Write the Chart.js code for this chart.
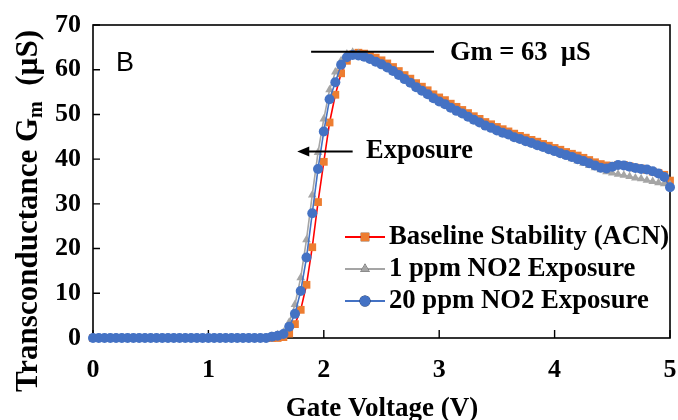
<!DOCTYPE html>
<html>
<head>
<meta charset="utf-8">
<script src="https://cdn.jsdelivr.net/npm/chart.js@4.4.0/dist/chart.umd.min.js"></script>
<style>
  html, body { margin: 0; padding: 0; background: #ffffff; }
  #wrap { width: 678px; height: 420px; }
</style>
</head>
<body>
<div id="wrap"><canvas id="chart" width="678" height="420"></canvas></div>
<script>
// Gate voltage sweep (V)
const voltage = [
  0.00, 0.05, 0.10, 0.15, 0.20, 0.25, 0.30, 0.35, 0.40, 0.45,
  0.50, 0.55, 0.60, 0.65, 0.70, 0.75, 0.80, 0.85, 0.90, 0.95,
  1.00, 1.05, 1.10, 1.15, 1.20, 1.25, 1.30, 1.35, 1.40, 1.45,
  1.50, 1.55, 1.60, 1.65, 1.70, 1.75, 1.80, 1.85, 1.90, 1.95,
  2.00, 2.05, 2.10, 2.15, 2.20, 2.25, 2.30, 2.35, 2.40, 2.45,
  2.50, 2.55, 2.60, 2.65, 2.70, 2.75, 2.80, 2.85, 2.90, 2.95,
  3.00, 3.05, 3.10, 3.15, 3.20, 3.25, 3.30, 3.35, 3.40, 3.45,
  3.50, 3.55, 3.60, 3.65, 3.70, 3.75, 3.80, 3.85, 3.90, 3.95,
  4.00, 4.05, 4.10, 4.15, 4.20, 4.25, 4.30, 4.35, 4.40, 4.45,
  4.50, 4.55, 4.60, 4.65, 4.70, 4.75, 4.80, 4.85, 4.90, 4.95,
  5.00
];

// Transconductance Gm (µS), baseline in acetonitrile
const baselineACN = [
  0, 0, 0, 0, 0, 0, 0, 0, 0, 0,
  0, 0, 0, 0, 0, 0, 0, 0, 0, 0,
  0, 0, 0, 0, 0, 0, 0, 0, 0, 0,
  0, 0, 0, 0.2, 1.0, 3.1, 6.3, 11.9, 20.3, 30.4,
  39.4, 48.2, 54.4, 59.2, 62.0, 63.4, 63.8, 63.6, 63.2, 62.7,
  62.1, 61.4, 60.6, 59.7, 58.8, 58.0, 57.0, 56.2, 55.4, 54.5,
  53.8, 53.2, 52.4, 51.7, 51.0, 50.3, 49.6, 49.0, 48.3, 47.8,
  47.2, 46.7, 46.2, 45.7, 45.2, 44.8, 44.3, 43.9, 43.4, 43.0,
  42.5, 42.1, 41.6, 41.2, 40.8, 40.3, 39.8, 39.3, 38.9, 38.6,
  38.5, 38.7, 38.7, 38.4, 38.1, 37.9, 37.6, 37.2, 36.9, 36.5,
  35.2
];

// Transconductance Gm (µS), 1 ppm NO2
const no2Ppm1 = [
  0, 0, 0, 0, 0, 0, 0, 0, 0, 0,
  0, 0, 0, 0, 0, 0, 0, 0, 0, 0,
  0, 0, 0, 0, 0, 0, 0, 0, 0, 0,
  0, 0.4, 0.7, 1.3, 3.5, 7.5, 13.5, 22.0, 32.0, 41.5,
  49.0, 55.5, 59.5, 62.0, 63.5, 63.9, 63.6, 63.1, 62.5, 61.8,
  61.1, 60.3, 59.5, 58.6, 57.7, 56.9, 55.9, 55.1, 54.3, 53.4,
  52.7, 52.1, 51.3, 50.6, 50.0, 49.3, 48.6, 48.0, 47.3, 46.8,
  46.2, 45.7, 45.3, 44.7, 44.3, 43.8, 43.4, 42.9, 42.5, 42.0,
  41.6, 41.1, 40.6, 40.1, 39.6, 39.1, 38.6, 38.1, 37.6, 37.2,
  36.9, 36.6, 36.4, 36.1, 35.8, 35.6, 35.3, 35.0, 34.7, 34.5,
  34.3
];

// Transconductance Gm (µS), 20 ppm NO2
const no2Ppm20 = [
  0, 0, 0, 0, 0, 0, 0, 0, 0, 0,
  0, 0, 0, 0, 0, 0, 0, 0, 0, 0,
  0, 0, 0, 0, 0, 0, 0, 0, 0, 0,
  0, 0.3, 0.5, 0.9, 2.5, 5.4, 10.5, 18.0, 27.9, 37.8,
  46.2, 53.4, 57.2, 61.1, 62.8, 63.3, 63.2, 62.9, 62.4, 61.8,
  61.2, 60.5, 59.7, 58.8, 57.9, 57.1, 56.1, 55.3, 54.5, 53.6,
  52.9, 52.3, 51.5, 50.8, 50.2, 49.5, 48.8, 48.2, 47.5, 47.0,
  46.4, 45.9, 45.5, 44.9, 44.5, 44.0, 43.6, 43.1, 42.7, 42.2,
  41.8, 41.3, 40.9, 40.5, 40.0, 39.6, 39.1, 38.6, 38.1, 37.9,
  38.3, 38.7, 38.6, 38.3, 38.0, 37.8, 37.7, 37.3, 36.8, 36.0,
  33.7
];

const seriesNames = ['Baseline Stability (ACN)', '1 ppm NO2 Exposure', '20 ppm NO2 Exposure'];
const xTickValues = [0, 1, 2, 3, 4, 5];
const yTickValues = [0, 10, 20, 30, 40, 50, 60, 70];
const peakLabel = 'Gm = 63  \u00B5S';
const arrowLabel = 'Exposure';
const panelLabel = 'B';
const xTitle = 'Gate Voltage (V)';
const yTitleParts = ['Transconductance G', 'm', '  (\u00B5S)'];

const SERIF = '"Liberation Serif", "Times New Roman", serif';
const SANS = '"Liberation Sans", Arial, sans-serif';

function toPoints(ys) {
  return voltage.map((v, i) => ({ x: v, y: ys[i] }));
}

// Frame around the plot area plus inward tick marks
const framePlugin = {
  id: 'frame',
  beforeDatasetsDraw(chart) {
    const { ctx, chartArea: a, scales } = chart;
    ctx.save();
    ctx.strokeStyle = '#000';
    ctx.lineWidth = 1.6;
    ctx.strokeRect(a.left, a.top, a.right - a.left, a.bottom - a.top);
    ctx.lineWidth = 1.4;
    ctx.beginPath();
    xTickValues.forEach(v => {
      const px = scales.x.getPixelForValue(v);
      ctx.moveTo(px, a.bottom);
      ctx.lineTo(px, a.bottom - 8);
    });
    yTickValues.forEach(v => {
      const py = scales.y.getPixelForValue(v);
      ctx.moveTo(a.left, py);
      ctx.lineTo(a.left + 7, py);
    });
    ctx.stroke();
    ctx.restore();
  }
};

// Axis titles, annotations and the in-plot legend
const overlayPlugin = {
  id: 'overlay',
  afterDraw(chart) {
    const { ctx, chartArea: a, scales } = chart;
    const X = v => scales.x.getPixelForValue(v);
    const Y = v => scales.y.getPixelForValue(v);
    ctx.save();
    ctx.fillStyle = '#000';
    ctx.strokeStyle = '#000';

    // x-axis title
    ctx.font = 'bold 27px ' + SERIF;
    ctx.textAlign = 'center';
    ctx.textBaseline = 'alphabetic';
    ctx.fillText(xTitle, 382, 416);

    // y-axis title with subscript
    ctx.save();
    ctx.translate(37, 211);
    ctx.rotate(-Math.PI / 2);
    const big = 'bold 31px ' + SERIF;
    const small = 'bold 20px ' + SERIF;
    ctx.font = big;
    const w0 = ctx.measureText(yTitleParts[0]).width;
    const w2 = ctx.measureText(yTitleParts[2]).width;
    ctx.font = small;
    const w1 = ctx.measureText(yTitleParts[1]).width;
    const sx = -(w0 + w1 + w2) / 2;
    ctx.textAlign = 'left';
    ctx.font = big;
    ctx.fillText(yTitleParts[0], sx, 0);
    ctx.font = small;
    ctx.fillText(yTitleParts[1], sx + w0, 5);
    ctx.font = big;
    ctx.fillText(yTitleParts[2], sx + w0 + w1, 0);
    ctx.restore();

    // panel letter
    ctx.font = '27px ' + SANS;
    ctx.textAlign = 'left';
    ctx.fillText(panelLabel, 116, 71);

    // peak marker line and label
    ctx.lineWidth = 2;
    ctx.beginPath();
    ctx.moveTo(X(1.89), Y(64));
    ctx.lineTo(X(2.955), Y(64));
    ctx.stroke();
    ctx.font = 'bold 26.5px ' + SERIF;
    ctx.textBaseline = 'middle';
    ctx.fillText(peakLabel, 450, Y(64) + 1);

    // shift arrow and label
    const ay = Y(41.7);
    const tip = X(1.77);
    ctx.beginPath();
    ctx.moveTo(X(2.25), ay);
    ctx.lineTo(tip + 8, ay);
    ctx.stroke();
    ctx.beginPath();
    ctx.moveTo(tip, ay);
    ctx.lineTo(tip + 12, ay - 5);
    ctx.lineTo(tip + 12, ay + 5);
    ctx.closePath();
    ctx.fill();
    ctx.fillText(arrowLabel, 366, ay);

    // legend
    const rows = [237, 269, 301];
    chart.data.datasets.forEach((ds, i) => {
      const y = rows[i];
      ctx.strokeStyle = ds.borderColor;
      ctx.lineWidth = 2;
      ctx.beginPath();
      ctx.moveTo(345, y);
      ctx.lineTo(385, y);
      ctx.stroke();
      Chart.helpers.drawPoint(ctx, {
        pointStyle: ds.pointStyle,
        radius: ds.pointRadius + 0.5,
        borderWidth: 0,
        rotation: 0
      }, 365, y);
      ctx.fillStyle = ds.pointBackgroundColor;
      ctx.fill();
      ctx.fillStyle = '#000';
      ctx.font = 'bold 26.7px ' + SERIF;
      ctx.textBaseline = 'middle';
      ctx.fillText(ds.label, 389, y);
    });
    ctx.restore();
  }
};

const baseDataset = {
  borderWidth: 1.6,
  pointBorderWidth: 0,
  tension: 0,
  clip: false
};

new Chart(document.getElementById('chart'), {
  type: 'line',
  data: {
    datasets: [
      Object.assign({}, baseDataset, {
        label: seriesNames[0],
        data: toPoints(baselineACN),
        borderColor: '#FF0000',
        pointBackgroundColor: '#ED7D31',
        pointBorderColor: '#ED7D31',
        pointStyle: 'rect',
        pointRadius: 5.5,
        order: 3
      }),
      Object.assign({}, baseDataset, {
        label: seriesNames[1],
        data: toPoints(no2Ppm1),
        borderColor: '#A5A5A5',
        pointBackgroundColor: '#A5A5A5',
        pointBorderColor: '#A5A5A5',
        pointStyle: 'triangle',
        pointRadius: 5,
        order: 2
      }),
      Object.assign({}, baseDataset, {
        label: seriesNames[2],
        data: toPoints(no2Ppm20),
        borderColor: '#4472C4',
        pointBackgroundColor: '#4472C4',
        pointBorderColor: '#4472C4',
        pointStyle: 'circle',
        pointRadius: 5,
        order: 1
      })
    ]
  },
  options: {
    responsive: false,
    animation: false,
    devicePixelRatio: 1,
    layout: { padding: { top: 25, right: 8, left: 0, bottom: 0 } },
    plugins: { legend: { display: false }, tooltip: { enabled: false } },
    scales: {
      x: {
        type: 'linear',
        min: 0,
        max: 5,
        afterBuildTicks: s => { s.ticks = xTickValues.map(v => ({ value: v })); },
        afterFit: s => { s.height = 82; s.paddingLeft = 0; s.paddingRight = 0; },
        grid: { display: false, drawTicks: false },
        border: { display: false },
        ticks: { color: '#000', padding: 17, font: { family: SERIF, size: 26, weight: 'bold' } }
      },
      y: {
        min: 0,
        max: 70,
        afterBuildTicks: s => { s.ticks = yTickValues.map(v => ({ value: v })); },
        afterFit: s => { s.width = 93; s.paddingTop = 0; s.paddingBottom = 0; },
        grid: { display: false, drawTicks: false },
        border: { display: false },
        ticks: { color: '#000', padding: 12, font: { family: SERIF, size: 26, weight: 'bold' } }
      }
    }
  },
  plugins: [framePlugin, overlayPlugin]
});
</script>
</body>
</html>
